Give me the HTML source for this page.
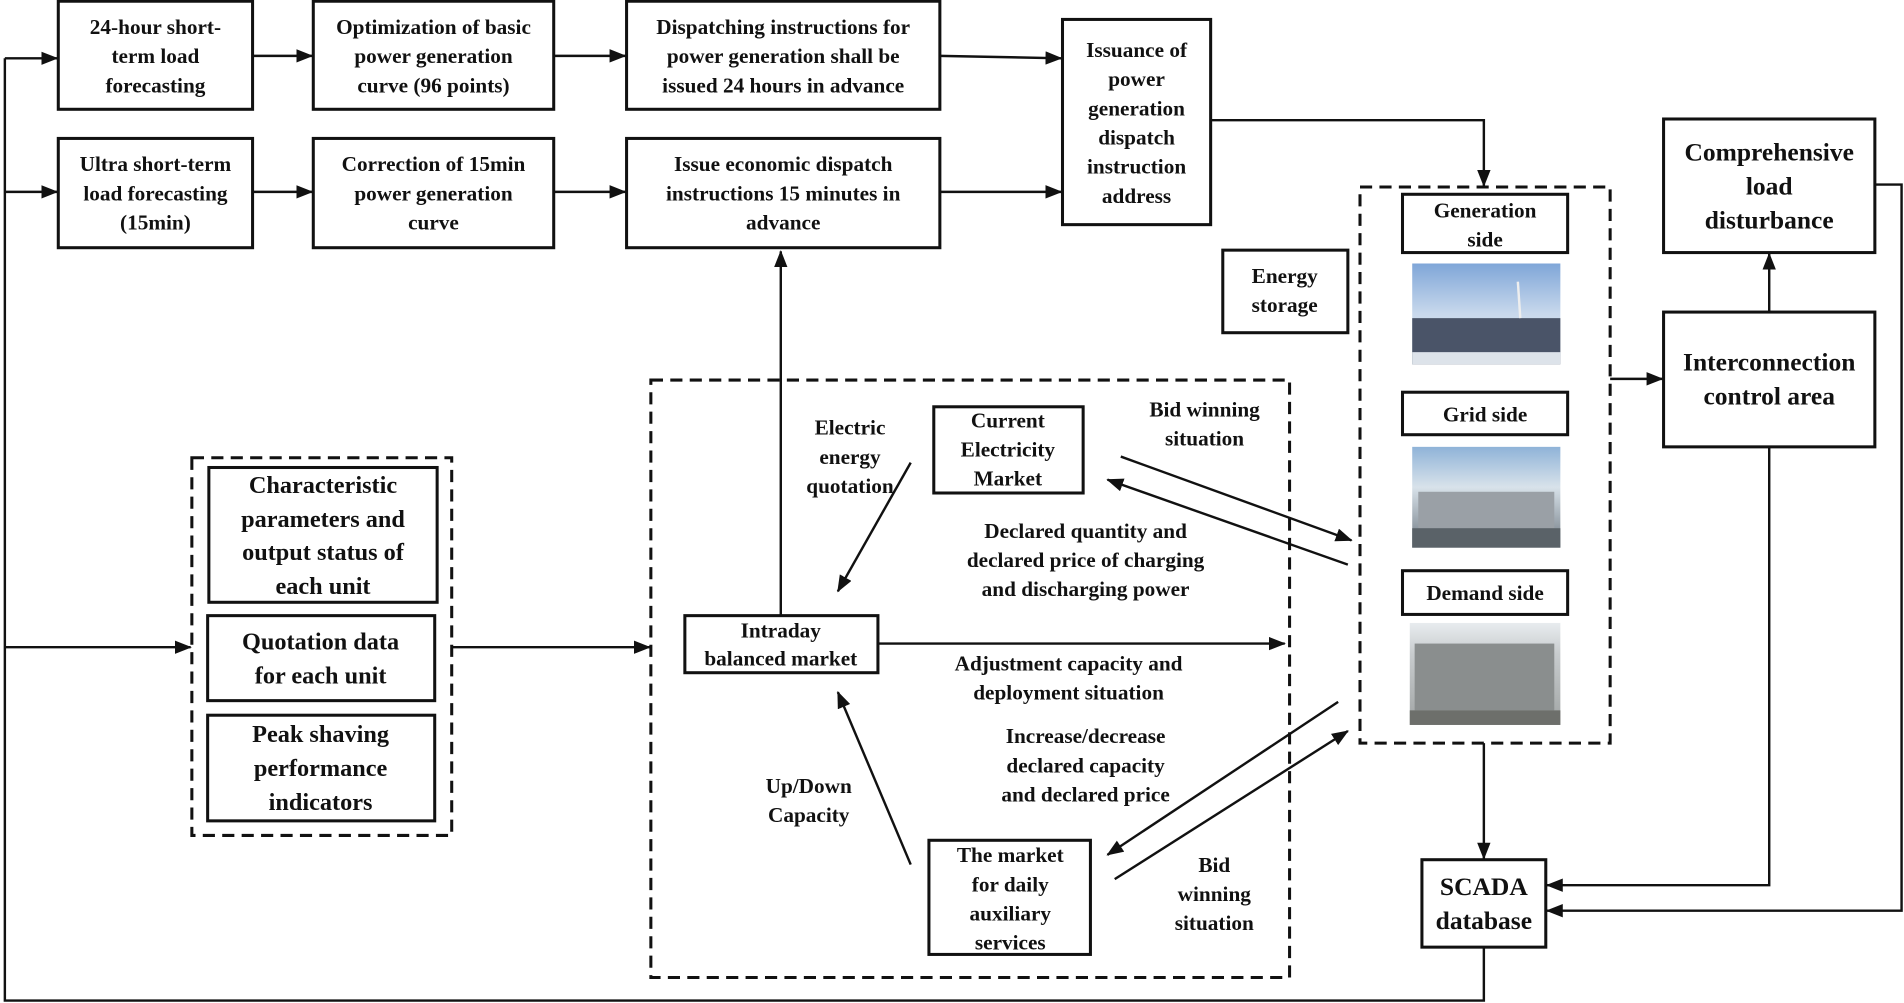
<!DOCTYPE html>
<html><head><meta charset="utf-8"><style>
html,body{margin:0;padding:0;background:#fff;}
svg{display:block;}
text{font-family:"Liberation Serif",serif;font-weight:bold;font-size:17.5px;fill:#111;text-anchor:middle;}
.b{fill:#fff;stroke:#111;stroke-width:2.5;}
.d{fill:none;stroke:#111;stroke-width:2.5;stroke-dasharray:10,6;}
.l{fill:none;stroke:#111;stroke-width:2;}
</style></head><body>
<svg width="1904" height="1003" viewBox="0 0 1568 826" preserveAspectRatio="none">
<defs><marker id="a" markerWidth="14" markerHeight="11" refX="13" refY="5.5" orient="auto" markerUnits="userSpaceOnUse"><path d="M0,0L14,5.5L0,11z" fill="#111"/></marker>
<linearGradient id="sky" x1="0" y1="0" x2="0" y2="1"><stop offset="0" stop-color="#7fa6d8"/><stop offset="0.5" stop-color="#c8d8ec"/><stop offset="1" stop-color="#e8eef4"/></linearGradient>
<linearGradient id="sky2" x1="0" y1="0" x2="0" y2="1"><stop offset="0" stop-color="#8fb3d8"/><stop offset="0.4" stop-color="#d8e2ea"/><stop offset="1" stop-color="#6d7780"/></linearGradient>
<linearGradient id="sky3" x1="0" y1="0" x2="0" y2="1"><stop offset="0" stop-color="#e8ecef"/><stop offset="0.3" stop-color="#c8ccce"/><stop offset="1" stop-color="#a0a4a4"/></linearGradient>
</defs>
<path class="l" d="M4,48V824H1222V780"/>
<path class="l" d="M4,48H47" marker-end="url(#a)"/>
<path class="l" d="M4,158H47" marker-end="url(#a)"/>
<path class="l" d="M4,533H157" marker-end="url(#a)"/>
<rect class="b" x="48" y="1" width="160" height="89"/>
<text x="128" y="28">24-hour short-</text><text x="128" y="52">term load</text><text x="128" y="76">forecasting</text>
<rect class="b" x="258" y="1" width="198" height="89"/>
<text x="357" y="28">Optimization of basic</text><text x="357" y="52">power generation</text><text x="357" y="76">curve (96 points)</text>
<rect class="b" x="516" y="1" width="258" height="89"/>
<text x="645" y="28">Dispatching instructions for</text><text x="645" y="52">power generation shall be</text><text x="645" y="76">issued 24 hours in advance</text>
<rect class="b" x="875" y="16" width="122" height="169"/>
<text x="936" y="47">Issuance of</text><text x="936" y="71">power</text><text x="936" y="95">generation</text><text x="936" y="119">dispatch</text><text x="936" y="143">instruction</text><text x="936" y="167">address</text>
<rect class="b" x="48" y="114" width="160" height="90"/>
<text x="128" y="141">Ultra short-term</text><text x="128" y="165">load forecasting</text><text x="128" y="189">(15min)</text>
<rect class="b" x="258" y="114" width="198" height="90"/>
<text x="357" y="141">Correction of 15min</text><text x="357" y="165">power generation</text><text x="357" y="189">curve</text>
<rect class="b" x="516" y="114" width="258" height="90"/>
<text x="645" y="141">Issue economic dispatch</text><text x="645" y="165">instructions 15 minutes in</text><text x="645" y="189">advance</text>
<path class="l" d="M208,46H257" marker-end="url(#a)"/>
<path class="l" d="M456,46H515" marker-end="url(#a)"/>
<path class="l" d="M774,46L874,48" marker-end="url(#a)"/>
<path class="l" d="M208,158H257" marker-end="url(#a)"/>
<path class="l" d="M456,158H515" marker-end="url(#a)"/>
<path class="l" d="M774,158H874" marker-end="url(#a)"/>
<path class="l" d="M997,99H1222V153" marker-end="url(#a)"/>
<rect class="d" x="158" y="377" width="214" height="311"/>
<rect class="b" x="172" y="385" width="188" height="111"/>
<text x="266" y="406" style="font-size:20px">Characteristic</text><text x="266" y="434" style="font-size:20px">parameters and</text><text x="266" y="461" style="font-size:20px">output status of</text><text x="266" y="489" style="font-size:20px">each unit</text>
<rect class="b" x="171" y="507" width="187" height="70"/>
<text x="264" y="535" style="font-size:20px">Quotation data</text><text x="264" y="563" style="font-size:20px">for each unit</text>
<rect class="b" x="171" y="589" width="187" height="87"/>
<text x="264" y="611" style="font-size:20px">Peak shaving</text><text x="264" y="639" style="font-size:20px">performance</text><text x="264" y="667" style="font-size:20px">indicators</text>
<path class="l" d="M372,533H535" marker-end="url(#a)"/>
<rect class="d" x="536" y="313" width="526" height="492"/>
<rect class="b" x="564" y="507" width="159" height="47"/>
<text x="643" y="525">Intraday</text><text x="643" y="548">balanced market</text>
<rect class="b" x="769" y="335" width="123" height="71"/>
<text x="830" y="352">Current</text><text x="830" y="376">Electricity</text><text x="830" y="400">Market</text>
<rect class="b" x="765" y="692" width="133" height="94"/>
<text x="832" y="710">The market</text><text x="832" y="734">for daily</text><text x="832" y="758">auxiliary</text><text x="832" y="782">services</text>
<path class="l" d="M643,507V207" marker-end="url(#a)"/>
<path class="l" d="M723,530H1058" marker-end="url(#a)"/>
<path class="l" d="M750,381L690,487" marker-end="url(#a)"/>
<path class="l" d="M750,712L690,570" marker-end="url(#a)"/>
<path class="l" d="M923,376L1113,445" marker-end="url(#a)"/>
<path class="l" d="M1110,465L912,395" marker-end="url(#a)"/>
<path class="l" d="M1102,578L912,704" marker-end="url(#a)"/>
<path class="l" d="M918,724L1110,602" marker-end="url(#a)"/>
<text x="700" y="358">Electric</text><text x="700" y="382">energy</text><text x="700" y="406">quotation</text>
<text x="992" y="343">Bid winning</text><text x="992" y="367">situation</text>
<text x="894" y="443">Declared quantity and</text><text x="894" y="467">declared price of charging</text><text x="894" y="491">and discharging power</text>
<text x="880" y="552">Adjustment capacity and</text><text x="880" y="576">deployment situation</text>
<text x="894" y="612">Increase/decrease</text><text x="894" y="636">declared capacity</text><text x="894" y="660">and declared price</text>
<text x="666" y="653">Up/Down</text><text x="666" y="677">Capacity</text>
<text x="1000" y="718">Bid</text><text x="1000" y="742">winning</text><text x="1000" y="766">situation</text>
<rect class="d" x="1120" y="154" width="206" height="458"/>
<rect class="b" x="1155" y="160" width="136" height="48"/>
<text x="1223" y="179">Generation</text><text x="1223" y="203">side</text>
<rect x="1163" y="217" width="122" height="83" fill="url(#sky)"/>
<rect x="1163" y="262" width="122" height="38" fill="#4a5468"/>
<rect x="1163" y="290" width="122" height="10" fill="#dde3ea"/>
<line x1="1250" y1="232" x2="1252" y2="262" stroke="#eee" stroke-width="2"/>
<rect class="b" x="1155" y="323" width="136" height="35"/>
<text x="1223" y="347">Grid side</text>
<rect x="1163" y="368" width="122" height="83" fill="url(#sky2)"/>
<rect x="1168" y="405" width="112" height="30" fill="#9aa0a6"/>
<rect x="1163" y="435" width="122" height="16" fill="#5a6268"/>
<rect class="b" x="1155" y="470" width="136" height="36"/>
<text x="1223" y="494">Demand side</text>
<rect x="1161" y="513" width="124" height="84" fill="url(#sky3)"/>
<rect x="1165" y="530" width="115" height="55" fill="#8a8e8e"/>
<rect x="1161" y="585" width="124" height="12" fill="#6d6f6b"/>
<rect class="b" x="1007" y="206" width="103" height="68"/>
<text x="1058" y="233">Energy</text><text x="1058" y="257">storage</text>
<rect class="b" x="1370" y="98" width="174" height="110"/>
<text x="1457" y="132" style="font-size:21px">Comprehensive</text><text x="1457" y="160" style="font-size:21px">load</text><text x="1457" y="188" style="font-size:21px">disturbance</text>
<rect class="b" x="1370" y="257" width="174" height="111"/>
<text x="1457" y="305" style="font-size:21px">Interconnection</text><text x="1457" y="333" style="font-size:21px">control area</text>
<rect class="b" x="1171" y="708" width="102" height="72"/>
<text x="1222" y="737" style="font-size:21px">SCADA</text><text x="1222" y="765" style="font-size:21px">database</text>
<path class="l" d="M1326,312H1369" marker-end="url(#a)"/>
<path class="l" d="M1457,257V209" marker-end="url(#a)"/>
<path class="l" d="M1457,368V729H1274" marker-end="url(#a)"/>
<path class="l" d="M1544,152H1566V750H1274" marker-end="url(#a)"/>
<path class="l" d="M1222,612V707" marker-end="url(#a)"/>
</svg>
</body></html>
